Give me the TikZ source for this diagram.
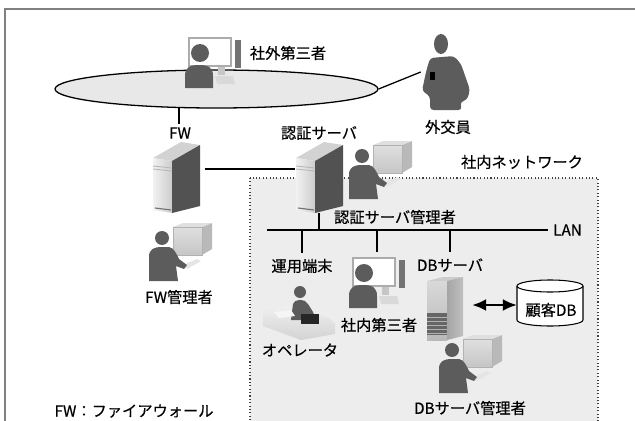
\documentclass[tikz,border=0pt]{standalone}
\usepackage{fontspec}
\setmainfont{Noto Sans CJK JP}[FakeBold=0.5]
\usepackage{tikz}
\usetikzlibrary{positioning,shapes.geometric,arrows.meta}

\begin{document}
\begin{tikzpicture}
[x=0.03cm, y=-0.03cm,
    font=\fontsize{13}{15}\selectfont,
    every node/.style={inner sep=0pt},
    spot/.style 2 args={minimum width=#1*0.03cm, minimum height=#2*0.03cm},
    link/.style={draw=black, line width=1.1pt},
    lan/.style={draw=black, line width=2.2pt},
    dbl/.style={line width=1.8pt, {Latex[length=0.42cm,width=0.36cm]}-{Latex[length=0.42cm,width=0.36cm]}},
    silh/.style={fill=black!64},
    % tower server, drawn at an angle
    server/.pic={
        \fill[gray!35] (-23,-20) -- (-4,-17) -- (24,-33) -- (5,-36) -- cycle;
        \shade[left color=gray!10, right color=gray!40] (-23,-20) -- (-4,-17) -- (-4,35) -- (-23,32) -- cycle;
        \fill[black!68] (-4,-17) -- (24,-33) -- (24,28) -- (-4,35) -- cycle;
        \draw[gray!55, line width=0.8pt] (-23,-12) -- (-4,-10) (-23,-9) -- (-4,-7);
        \draw[black!55, line width=1pt] (-21,30) -- (-5,32);
    },
    dbserver/.pic={
        \fill[gray!40] (-18,-28) -- (2,-28) -- (18,-32) -- (-2,-32) -- cycle;
        \shade[top color=gray!30, bottom color=gray!55] (-18,-28) rectangle (2,31);
        \fill[black!60] (-18,4) rectangle (2,26);
        \foreach \yy in {8,12,...,24}
            \draw[gray!60, line width=0.6pt] (-18,\yy) -- (2,\yy);
        \shade[left color=gray!70, right color=gray!50] (2,-28) -- (18,-32) -- (18,27) -- (2,31) -- cycle;
    },
    % person working at a CRT, seen from behind
    admin/.pic={
        \fill[gray!55] (22,-26) -- (32,-30) -- (32,-4) -- (22,2) -- cycle;
        \fill[gray!25] (-7,-26) -- (22,-26) -- (32,-30) -- (3,-30) -- cycle;
        \shade[top color=gray!25, bottom color=gray!45, draw=gray!60] (-7,-26) rectangle (22,2);
        \fill[gray!20] (3,12) -- (17,6) -- (21,8) -- (7,16) -- cycle;
        \fill[silh] (-18,-15) circle (7);
        \fill[silh] (-31,28) -- (-31,4) .. controls (-31,-4) and (-26,-6) .. (-18,-6) -- (-11,-6)
            .. controls (-6,-5) and (-4,0) .. (-1,6) -- (7,12) -- (4,16) -- (-4,13) -- (-2,28) -- cycle;
    },
    % person in front of a flat screen
    pcuser/.pic={
        \draw[gray!65, line width=1.8pt, fill=white] (-24,-24) rectangle (18,4);
        \fill[black!55] (22,-22) rectangle (28,6);
        \fill[gray!45] (5,5) rectangle (12,13);
        \fill[gray!30] (2,14) -- (20,14) -- (22,22) -- (4,22) -- cycle;
        \fill[silh] (-13,-9) circle (9);
        \fill[silh] (-28,26) -- (-28,14) .. controls (-28,6) and (-24,3) .. (-14,3)
            .. controls (-4,3) and (0,6) .. (0,14) -- (0,26) -- cycle;
    },
    walker/.pic={
        \fill[silh] (-5,-28) ellipse [x radius=7, y radius=10];
        \fill[silh, rounded corners=3pt] (-16,-14) -- (8,-16) -- (15,-8) -- (24,18) -- (21,28) -- (14,30)
            -- (16,38) -- (-16,38) -- (-16,24) -- (-24,19) -- (-20,0) -- cycle;
        \fill[black] (-16,0) rectangle (-11,8);
    },
    operator/.pic={
        \shade[top color=gray!12, bottom color=gray!35] (-36,-2) -- (-8,-6) -- (30,6) -- (36,12) -- (36,22)
            -- (2,28) -- (-36,14) -- cycle;
        \fill[silh] (1,-20) circle (6);
        \fill[silh] (-8,8) -- (-6,-8) .. controls (-5,-13) and (6,-14) .. (9,-8) -- (14,0) -- (17,8) -- cycle;
        \fill[black!85] (2,2) rectangle (20,12);
        \fill[gray!8] (-25,0) -- (-8,-2) -- (-4,4) -- (-20,6) -- cycle;
    }
    ]

    \useasboundingbox (0,0) rectangle (635,421);
    \clip (0,0) rectangle (635,421);
    \draw[black!50, line width=1.2pt] (5,440) -- (5,9) -- (640,9);

    % in-house network area
    \draw[black!75, dotted, line width=0.9pt, fill=gray!14] (250,178) rectangle (598,440);

    \node (inet) [ellipse, draw, line width=1.1pt, fill=gray!18, spot={323}{38}] at (216.5,89) {};

    % icon places
    \node (outsider) [spot={56}{55}] at (213,62) {};
    \node (sales) [spot={50}{78}] at (446,72) {};
    \node (fwsv) [spot={47}{70}] at (176,178) {};
    \node (authsv) [spot={47}{70}] at (319,178) {};
    \node (fwadm) [spot={64}{57}] at (180,253) {};
    \node (authadm) [spot={64}{57}] at (380,171) {};
    \node (insider) [spot={56}{55}] at (377,282) {};
    \node (oper) [spot={72}{48}] at (299,312) {};
    \node (dbsv) [spot={36}{64}] at (445,309) {};
    \node (dbadm) [spot={64}{57}] at (470,365) {};
    \node (custdb) [spot={66}{48}] at (550,305) {};

    \coordinate (lanL) at (267,230);
    \coordinate (lanR) at (548,230);

    % labels
    \node (lbloutsider) at (288,53) {社外第三者};
    \node (lblsales) at (448,127) {外交員};
    \node (lblfw) at (180,133) {FW};
    \node (lblauth) at (319,133) {認証サーバ};
    \node (lblnet) at (522,162) {社内ネットワーク};
    \node (lblauthadm) at (395,217) {認証サーバ管理者};
    \node (lbllan) [right=0.15cm of lanR] {LAN};
    \node (lblterm) at (302,266) {運用端末};
    \node (lblinsider) at (379,325) {社内第三者};
    \node (lbldbsv) at (450,265) {DBサーバ};
    \node (lbloper) at (300,350) {オペレータ};
    \node (lbldbadm) at (470,408) {DBサーバ管理者};
    \node (lblfwadm) at (179,297) {FW管理者};
    \node (note) at (134,411) {FW：ファイアウォール};

    % connections
    \draw[link, shorten >=0.09cm] (inet.207) -- (inet.207 |- lblfw.north);
    \draw[link] (inet.east) -- (sales.west);
    \draw[link, shorten <=0.15cm] ([yshift=0.27cm]fwsv.east) -- ([yshift=0.27cm]authsv.west);
    \draw[lan] (lanL) -- (lanR);
    \draw[link] (authsv.south) -- (authsv.south |- lanL);
    \draw[link, shorten >=0.18cm] (lblterm.north |- lanL) -- (lblterm.north);
    \draw[link, shorten >=0.06cm] (insider.north |- lanL) -- (insider.north);
    \draw[link, shorten >=0.18cm] (lbldbsv.north |- lanL) -- (lbldbsv.north);
    \draw[dbl, shorten <=0.27cm] (custdb.west -| dbsv.east) -- (custdb.west);

    % customer database
    \draw[line width=0.9pt, fill=white] (517,286) -- (517,320) arc[start angle=180, end angle=0, x radius=33, y radius=6] -- (583,286);
    \draw[line width=0.9pt, fill=white] (550,286) ellipse [x radius=33, y radius=6];
    \node (custdbtxt) at (551,310) {顧客DB};

    \pic at (outsider) {pcuser};
    \pic at (sales) {walker};
    \pic at (fwsv) {server};
    \pic at (authsv) {server};
    \pic at (fwadm) {admin};
    \pic at (authadm) {admin};
    \pic at (insider) {pcuser};
    \pic at (oper) {operator};
    \pic at (dbsv) {dbserver};
    \pic at (dbadm) {admin};
\end{tikzpicture}
\end{document}
